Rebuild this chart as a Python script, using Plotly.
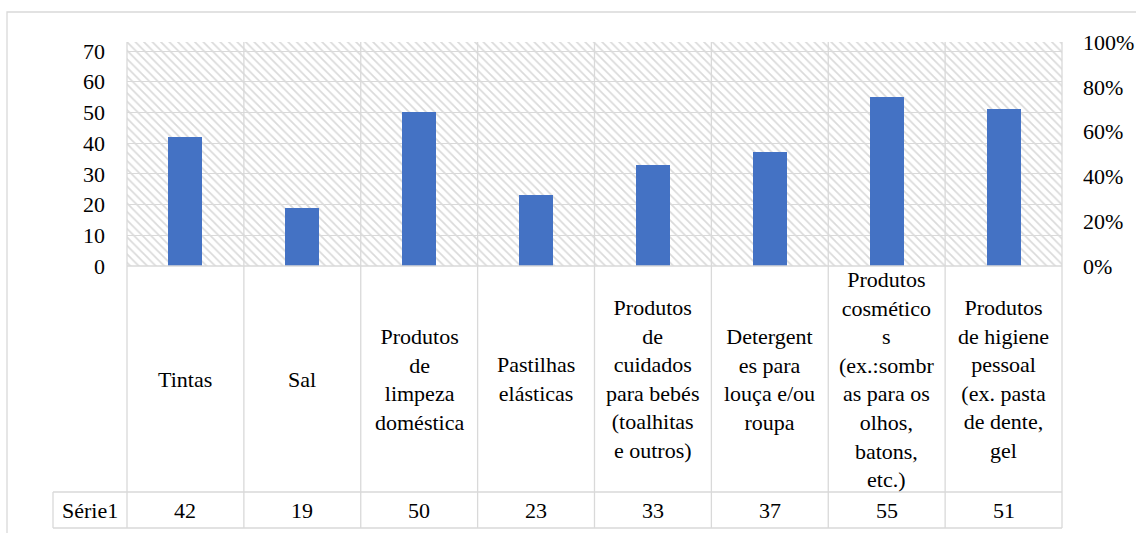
import plotly.graph_objects as go

# ---- data ----
categories = [
    "Tintas",
    "Sal",
    "Produtos<br>de<br>limpeza<br>doméstica",
    "Pastilhas<br>elásticas",
    "Produtos<br>de<br>cuidados<br>para bebés<br>(toalhitas<br>e outros)",
    "Detergent<br>es para<br>louça e/ou<br>roupa",
    "Produtos<br>cosmético<br>s<br>(ex.:sombr<br>as para os<br>olhos,<br>batons,<br>etc.)",
    "Produtos<br>de higiene<br>pessoal<br>(ex. pasta<br>de dente,<br>gel",
]
series_name = "Série1"
values = [42, 19, 50, 23, 33, 37, 55, 51]
left_ticks = [0, 10, 20, 30, 40, 50, 60, 70]
right_ticks = [0, 0.2, 0.4, 0.6, 0.8, 1.0]

# ---- layout geometry (pixels) ----
W, H = 1136, 533
PL, PR, PT, PB = 127, 1062, 42, 266      # plot area box
ROW1_BOTTOM, ROW2_BOTTOM = 492, 528      # data table rows
LABEL_LEFT = 53                          # left edge of the series-name cell
GRID = "#d9d9d9"
FONT = dict(family="Liberation Serif", size=22, color="#000000")


def fx(p):
    return (p - PL) / (PR - PL)


def fy(p):
    return (PB - p) / (PB - PT)


n = len(categories)
fig = go.Figure()

# hatched plot-area background
fig.add_trace(go.Bar(
    x=[0.5], y=[1], width=[1], xaxis="x", yaxis="y",
    marker=dict(color="rgba(0,0,0,0)", line=dict(width=0),
                pattern=dict(shape="\\", fgcolor="#dadada", bgcolor="rgba(0,0,0,0)",
                             size=6, solidity=0.28, fillmode="replace")),
    hoverinfo="skip", showlegend=False,
))

# data bars
fig.add_trace(go.Bar(
    x=categories, y=values, xaxis="x2", yaxis="y2", name=series_name,
    marker=dict(color="#4472C4", line=dict(width=0)),
    width=0.29, showlegend=False,
))

shapes = []
line = dict(color=GRID, width=1.3)
# outer chart border
shapes.append(dict(type="rect", xref="paper", yref="paper",
                   x0=fx(7), x1=fx(W + 10), y0=fy(H + 10), y1=fy(12),
                   line=dict(color=GRID, width=1.3), layer="below"))
# vertical column lines through plot and table
for i in range(n + 1):
    shapes.append(dict(type="line", xref="paper", yref="paper",
                       x0=i / n, x1=i / n, y0=fy(ROW2_BOTTOM), y1=1, line=line))
# table horizontal lines
shapes.append(dict(type="line", xref="paper", yref="paper",
                   x0=0, x1=1, y0=0, y1=0, line=line))
for yy in (ROW1_BOTTOM, ROW2_BOTTOM):
    shapes.append(dict(type="line", xref="paper", yref="paper",
                       x0=fx(LABEL_LEFT), x1=1, y0=fy(yy), y1=fy(yy), line=line))
shapes.append(dict(type="line", xref="paper", yref="paper",
                   x0=fx(LABEL_LEFT), x1=fx(LABEL_LEFT),
                   y0=fy(ROW2_BOTTOM), y1=fy(ROW1_BOTTOM), line=line))

annotations = []
row1_mid = fy((PB + ROW1_BOTTOM) / 2)
row2_mid = fy((ROW1_BOTTOM + ROW2_BOTTOM) / 2)
for i, (cat, v) in enumerate(zip(categories, values)):
    cx = (i + 0.5) / n
    annotations.append(dict(x=cx, y=row1_mid, xref="paper", yref="paper", text=cat,
                            showarrow=False, xanchor="center", yanchor="middle",
                            align="center", font=FONT))
    annotations.append(dict(x=cx, y=row2_mid, xref="paper", yref="paper", text=str(v),
                            showarrow=False, xanchor="center", yanchor="middle",
                            font=FONT))
annotations.append(dict(x=fx((LABEL_LEFT + PL) / 2), y=row2_mid, xref="paper", yref="paper",
                        text=series_name, showarrow=False, xanchor="center",
                        yanchor="middle", font=FONT))

fig.update_layout(
    width=W, height=H,
    margin=dict(l=PL, r=W - PR, t=PT, b=H - PB, pad=0, autoexpand=False),
    paper_bgcolor="white", plot_bgcolor="white",
    font=FONT, showlegend=False, bargap=0,
    xaxis=dict(range=[0, 1], visible=False, fixedrange=True, automargin=False),
    yaxis=dict(range=[0, 1], side="right", tickvals=right_ticks, tickformat=".0%",
               showgrid=False, zeroline=False, showline=False, ticks="",
               ticklabelstandoff=20, tickfont=FONT, fixedrange=True, automargin=False),
    xaxis2=dict(type="category", overlaying="x", visible=False, fixedrange=True,
                range=[-0.5, n - 0.5], automargin=False),
    yaxis2=dict(range=[0, 72.95], overlaying="y", side="left", tickvals=left_ticks,
                showgrid=True, gridcolor=GRID, gridwidth=1.3, zeroline=False,
                showline=False, ticks="", ticklabelstandoff=21, tickfont=FONT,
                fixedrange=True, automargin=False),
    shapes=shapes, annotations=annotations,
)

fig.write_html("out.html")
